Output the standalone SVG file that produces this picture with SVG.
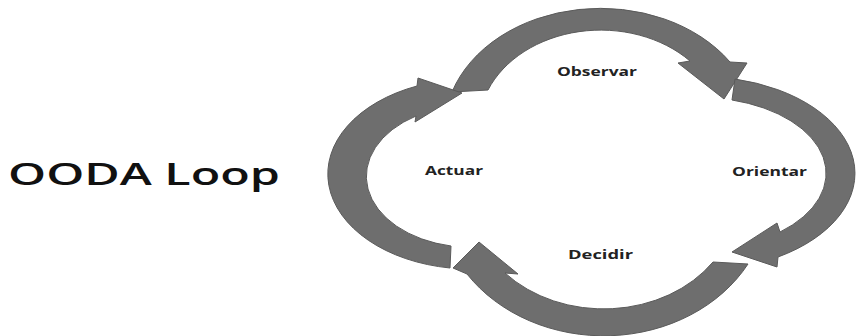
<svg xmlns="http://www.w3.org/2000/svg" width="858" height="336" viewBox="0 0 858 336">
<style>
.arrow{fill:#6e6e6e;stroke:#5a5a5a;stroke-width:1;stroke-linejoin:miter}
.lbl{font-family:"Open Sans","Liberation Sans",sans-serif;font-weight:bold;font-size:13px;fill:#222}
.title{font-family:"Open Sans","Liberation Sans",sans-serif;font-weight:600;font-size:31px;fill:#111}
</style>
<rect width="858" height="336" fill="#fff"/>
<g id="title">
<text class="title" x="8" y="185" textLength="272" lengthAdjust="spacingAndGlyphs">OODA Loop</text>
</g>
<g id="connectors">
<path class="arrow" d="M452,92 A156,121 0 0 1 730,62 L747,63 L724,99 L678,63 L690,61 A122,97 0 0 0 488,90 Z"/>
<path class="arrow" d="M735,79 A156,97 0 0 1 778,257 L777,267 L732,252 L777,223 L780,232 A127,76 0 0 0 732,100 Z"/>
<path class="arrow" d="M748,264 A165,140 0 0 1 467,274 L453,268 L479,242 L518,274 L505,273 A133,109 0 0 0 713,262 Z"/>
<path class="arrow" d="M450,268 A143,95 0 0 1 417,86 L418,78 L462,93 L415,122 L416,116 A105,71 0 0 0 451,246 Z"/>
</g>
<g id="observar"><text class="lbl" x="557" y="76" textLength="80" lengthAdjust="spacingAndGlyphs">Observar</text></g>
<g id="orientar"><text class="lbl" x="732" y="176" textLength="75" lengthAdjust="spacingAndGlyphs">Orientar</text></g>
<g id="decidir"><text class="lbl" x="568" y="259" textLength="65" lengthAdjust="spacingAndGlyphs">Decidir</text></g>
<g id="actuar"><text class="lbl" x="425" y="175" textLength="58" lengthAdjust="spacingAndGlyphs">Actuar</text></g>
</svg>
